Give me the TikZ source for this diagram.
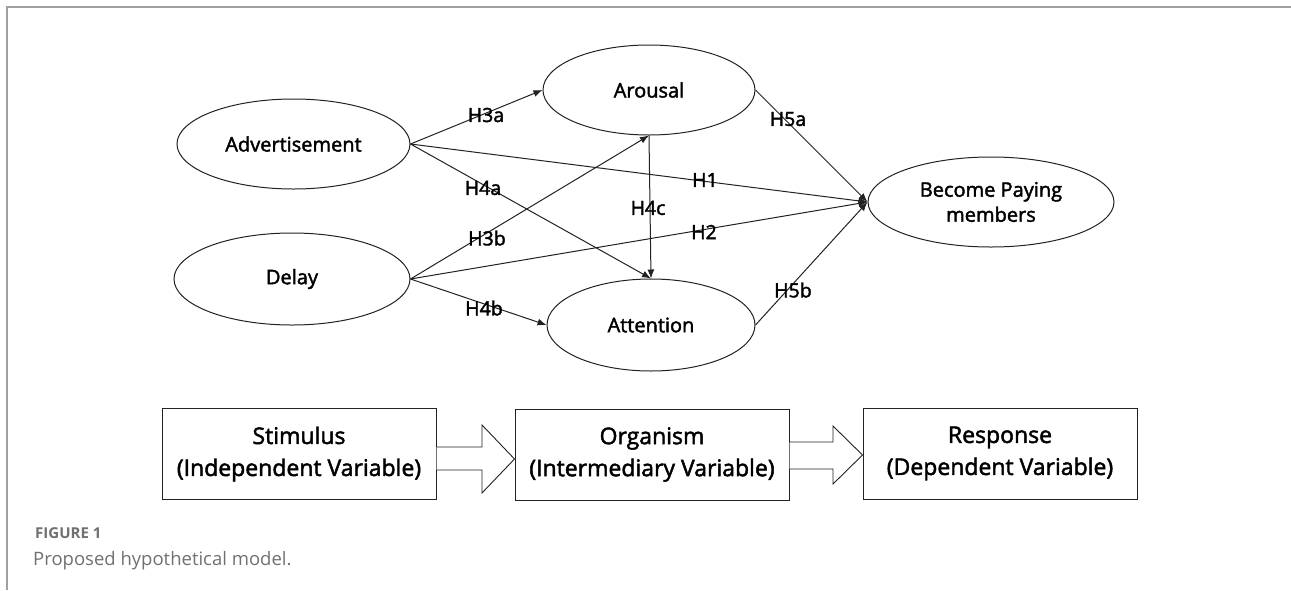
\documentclass[tikz,border=0pt]{standalone}
\usepackage{fontspec}
\setmainfont{Open Sans}
\newfontfamily\dfont{Open Sans}[FakeBold=2]
\usetikzlibrary{shapes.geometric,arrows.meta,calc}
\definecolor{linec}{HTML}{222222}
\definecolor{framec}{HTML}{A0A0A0}
\definecolor{capc}{HTML}{707070}
\begin{document}
\begin{tikzpicture}[x=1pt,y=-1pt,
  oval/.style={ellipse,draw=linec,line width=1pt,inner sep=0pt,font=\dfont\fontsize{20}{25}\selectfont,text=black,align=center},
  conn/.style={draw=linec,line width=1pt,-{Latex[length=9pt,width=7pt]}},
  hlab/.style={font=\dfont\fontsize{19.5}{22}\selectfont,inner sep=0pt,text=black},
  sbox/.style={rectangle,draw=linec,line width=1pt,minimum width=274pt,minimum height=91pt,inner sep=0pt,align=center,font=\dfont\fontsize{23}{32}\selectfont,text=black},
  blk/.style={draw=linec,line width=0.9pt,fill=white,line join=miter},
  framel/.style={draw=framec,line width=1.5pt}]
\useasboundingbox (0,0) rectangle (1291,590);
% frame lines
\coordinate (fc) at (7,7);
\coordinate (fr) at (1291,7);
\coordinate (fb) at (7,590);
\draw[framel] (fr) -- (fc) -- (fb);
% ellipses
\node[oval,minimum width=233pt,minimum height=90pt] (adv) at (293.5,144) {Advertisement};
\node[oval,minimum width=236pt,minimum height=92pt] (del) at (292,279) {Delay};
\node[oval,minimum width=212pt,minimum height=90pt] (aro) at (649,90) {Arousal};
\node[oval,minimum width=208pt,minimum height=92pt] (att) at (651,325) {Attention};
\node[oval,minimum width=246pt,minimum height=90pt] (bec) at (991,202) {Become Paying\\members};
% connectors
\draw[conn] (adv.east) -- (aro.west);
\draw[conn] (adv.east) -- (bec.west);
\draw[conn] (adv.east) -- (att.north);
\draw[conn] (del.east) -- (aro.south);
\draw[conn] (del.east) -- (bec.west);
\draw[conn] (del.east) -- (att.west);
\draw[conn] (aro.south) -- (att.north);
\draw[conn] (aro.east) -- (bec.west);
\draw[conn] (att.east) -- (bec.west);
% labels
\node[hlab] (l3a) at (486,115) {H3a};
\node[hlab] (l4a) at (483,188) {H4a};
\node[hlab] (l3b) at (487,238) {H3b};
\node[hlab] (l4b) at (484,308) {H4b};
\node[hlab] (l1) at (705,180) {H1};
\node[hlab] (l2) at (704,232) {H2};
\node[hlab] (l4c) at (648,208) {H4c};
\node[hlab] (l5a) at (788,119) {H5a};
\node[hlab] (l5b) at (793,290) {H5b};
% S-O-R boxes
\node[sbox] (s1) at (299,454) {Stimulus\\(Independent Variable)};
\node[sbox] (s2) at (652,454.5) {Organism\\(Intermediary Variable)};
\node[sbox] (s3) at (1000,453.5) {Response\\(Dependent Variable)};
% block arrows
\draw[blk] (s1.east |- 0,447) -- (482,447) -- (482,425) -- (s2.west |- 0,459) -- (482,493) -- (482,470) -- (s1.east |- 0,470);
\draw[blk] (s2.east |- 0,442) -- (833,442) -- (833,426) -- (s3.west |- 0,455) -- (833,484) -- (833,469) -- (s2.east |- 0,469);
% caption
\node[anchor=base west,inner sep=0pt,font=\fontsize{15}{17}\selectfont\bfseries,text=capc] (fig) at (35,538) {FIGURE 1};
\node[anchor=base west,inner sep=0pt,font=\fontsize{18.5}{22}\selectfont,text=capc] (cap) at (33,565) {Proposed hypothetical model.};
\end{tikzpicture}
\end{document}
